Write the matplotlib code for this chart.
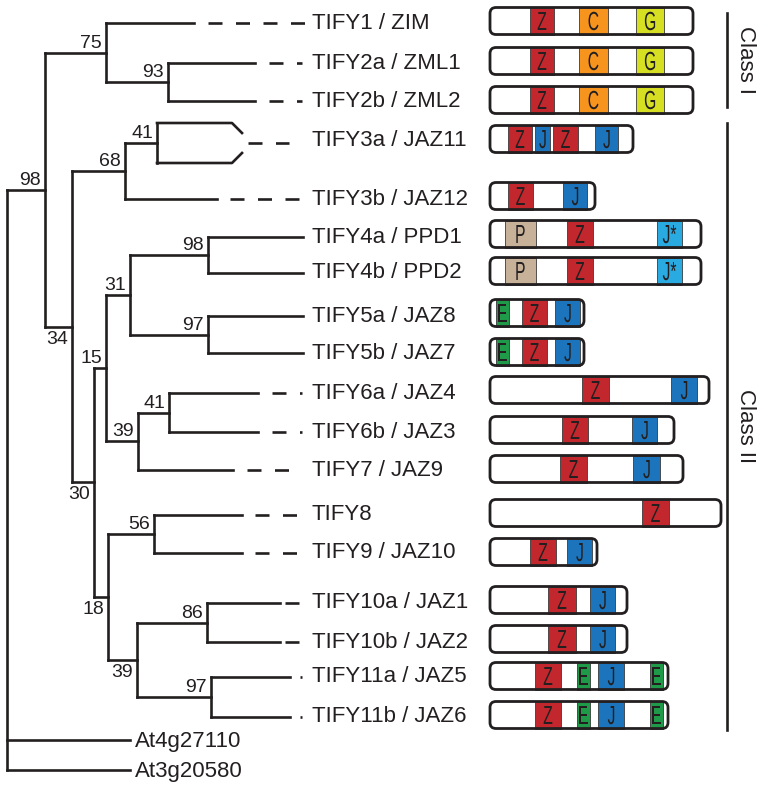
import matplotlib
matplotlib.use("Agg")
import matplotlib.pyplot as plt
import matplotlib.patches as mpatches
from matplotlib import font_manager
from matplotlib.textpath import TextPath
from matplotlib.font_manager import FontProperties
from matplotlib.transforms import Affine2D

# pick fonts
def have_font(name):
    try:
        font_manager.findfont(name, fallback_to_default=False)
        return True
    except ValueError:
        return False

main_font = "Liberation Sans" if have_font("Liberation Sans") else "DejaVu Sans"
plt.rcParams["font.family"] = [main_font, "DejaVu Sans"]

# ---------------- data ----------------
# leaves (top to bottom), their row on the tree and the extent of the branch tip
leaf_names = ["TIFY1 / ZIM", "TIFY2a / ZML1", "TIFY2b / ZML2", "TIFY3a / JAZ11",
              "TIFY3b / JAZ12", "TIFY4a / PPD1", "TIFY4b / PPD2", "TIFY5a / JAZ8",
              "TIFY5b / JAZ7", "TIFY6a / JAZ4", "TIFY6b / JAZ3", "TIFY7 / JAZ9",
              "TIFY8", "TIFY9 / JAZ10", "TIFY10a / JAZ1", "TIFY10b / JAZ2",
              "TIFY11a / JAZ5", "TIFY11b / JAZ6"]
leaf_rows = [23, 63, 101, 143, 199, 237, 273, 316, 353, 393, 432, 470,
             515, 553, 603, 642, 677, 717]
solid_end = [194, 255, 255, 233, 217, 303, 303, 303, 303, 258, 258, 233,
             242, 242, 280, 280, 290, 290]
dash_start = [208, 269, 269, 248, 230, None, None, None, None, 272, 272, 247,
              255, 255, 285, 285, 300, 300]
dash_end = [306, 302, 302, 289, 300, None, None, None, None, 302, 302, 290,
            297, 297, 299, 299, 302, 302]

# outgroups
outgroup_names = ["At4g27110", "At3g20580"]
outgroup_rows = [740, 770]
outgroup_end = 130

# internal nodes: depth (x), bootstrap support, label side, children
node_x = {"root": 7, "A": 45, "B": 106, "D": 168, "C": 72, "E": 125, "G": 157,
          "F": 94, "H": 106, "J": 130, "L": 208, "M": 208, "K": 138, "N": 169,
          "I": 108, "O": 154, "P": 137, "Q": 207, "R": 211}
node_support = {"A": 98, "B": 75, "D": 93, "C": 34, "E": 68, "G": 41, "F": 30,
                "H": 15, "J": 31, "L": 98, "M": 97, "K": 39, "N": 41, "I": 18,
                "O": 56, "P": 39, "Q": 86, "R": 97}
label_below = ["C", "F", "I", "P"]
children = {"root": ["A", "At4g27110", "At3g20580"],
            "A": ["B", "C"], "B": ["TIFY1 / ZIM", "D"],
            "D": ["TIFY2a / ZML1", "TIFY2b / ZML2"],
            "C": ["E", "F"], "E": ["G", "TIFY3b / JAZ12"],
            "G": ["TIFY3a-1", "TIFY3a-2"],
            "F": ["H", "I"], "H": ["J", "K"], "J": ["L", "M"],
            "L": ["TIFY4a / PPD1", "TIFY4b / PPD2"],
            "M": ["TIFY5a / JAZ8", "TIFY5b / JAZ7"],
            "K": ["N", "TIFY7 / JAZ9"],
            "N": ["TIFY6a / JAZ4", "TIFY6b / JAZ3"],
            "I": ["O", "P"], "O": ["TIFY8", "TIFY9 / JAZ10"],
            "P": ["Q", "R"], "Q": ["TIFY10a / JAZ1", "TIFY10b / JAZ2"],
            "R": ["TIFY11a / JAZ5", "TIFY11b / JAZ6"]}
# TIFY3a is drawn as two branches merging into one tip
tify3a_rows = [123, 163]
tify3a_merge = [232, 242]

# protein domain architecture (length and domains, in diagram units)
protein_len = [203, 203, 203, 143, 105, 211, 211, 94, 94, 219, 184, 193,
               231, 107, 137, 137, 178, 178]
protein_domains = [
    [("Z", 40, 64), ("C", 89, 118), ("G", 146, 174)],
    [("Z", 40, 64), ("C", 89, 118), ("G", 146, 174)],
    [("Z", 40, 64), ("C", 89, 118), ("G", 146, 174)],
    [("Z", 18, 42), ("J", 45, 60), ("Z", 63, 88), ("J", 105, 128)],
    [("Z", 18, 43), ("J", 73, 97)],
    [("P", 15, 46), ("Z", 77, 103), ("J*", 167, 192)],
    [("P", 15, 46), ("Z", 77, 103), ("J*", 167, 192)],
    [("E", 6, 19), ("Z", 32, 57), ("J", 65, 90)],
    [("E", 6, 19), ("Z", 32, 57), ("J", 65, 90)],
    [("Z", 92, 119), ("J", 181, 207)],
    [("Z", 72, 98), ("J", 142, 167)],
    [("Z", 70, 97), ("J", 143, 170)],
    [("Z", 152, 179)],
    [("Z", 40, 66), ("J", 77, 102)],
    [("Z", 58, 86), ("J", 100, 125)],
    [("Z", 58, 86), ("J", 100, 125)],
    [("Z", 45, 71), ("E", 87, 100), ("J", 108, 134), ("E", 160, 173)],
    [("Z", 45, 71), ("E", 87, 100), ("J", 108, 134), ("E", 160, 173)],
]
domain_colors = {"Z": "#c1272d", "C": "#f7941d", "G": "#d7df23", "J": "#1c75bc",
                 "J*": "#29abe2", "P": "#c7b299", "E": "#1e9a48"}
box_rows = [21, 61, 100, 139, 196, 234, 271, 313, 352, 390, 430, 469,
            513, 552, 600, 639, 676, 715]

class_names = ["Class I", "Class II"]
class_span = [(13, 107), (123, 730)]

# ---------------- drawing ----------------
W, H = 757, 788
fig = plt.figure(figsize=(W / 100, H / 100), dpi=100)
ax = fig.add_axes([0, 0, 1, 1])
ax.set_xlim(0, W)
ax.set_ylim(H, 0)
ax.axis("off")

lw = 1.9
col = "#231f20"
px = 0.72  # points per pixel

leaf_y = dict(zip(leaf_names, leaf_rows))
leaf_y.update(dict(zip(outgroup_names, outgroup_rows)))
leaf_y["TIFY3a-1"], leaf_y["TIFY3a-2"] = tify3a_rows


def node_y(n):
    if n in children:
        ys = [node_y(c) for c in children[n]]
        return (ys[0] + ys[-1]) / 2
    return leaf_y[n]


def draw(n):
    x = node_x[n]
    ys = [node_y(c) for c in children[n]]
    ax.plot([x, x], [ys[0], ys[-1]], color=col, lw=lw, solid_capstyle="projecting")
    for c, yc in zip(children[n], ys):
        if c in children:
            ax.plot([x, node_x[c]], [yc, yc], color=col, lw=lw,
                    solid_capstyle="projecting")
            draw(c)
        elif c in outgroup_names:
            ax.plot([x, outgroup_end], [yc, yc], color=col, lw=lw)
            ax.text(outgroup_end + 5, yc + 1, c, fontsize=16, va="center",
                    ha="left", color=col)
        elif c.startswith("TIFY3a-"):
            m0, m1 = tify3a_merge
            ymid = node_y("G")
            ym = ymid - 10 if yc < ymid else ymid + 10
            ax.plot([x, m0, m1], [yc, yc, ym], color=col, lw=lw)
        else:
            i = leaf_names.index(c)
            ax.plot([x, solid_end[i]], [yc, yc], color=col, lw=lw)
    if n in node_support:
        yin = node_y(n)
        if n in label_below:
            ax.text(x - 4, yin + 4, str(node_support[n]), fontsize=14,
                    ha="right", va="top", color=col)
        else:
            ax.text(x - 4, yin - 1, str(node_support[n]), fontsize=14,
                    ha="right", va="bottom", color=col)


draw("root")

# dashed tips and leaf labels
on, off = 14, 13.5
for i, name in enumerate(leaf_names):
    y = leaf_rows[i]
    if dash_start[i] is not None:
        ax.plot([dash_start[i], dash_end[i]], [y, y], color=col, lw=lw,
                linestyle=(0, (on * px / lw, off * px / lw)),
                dash_capstyle="butt")
    ty = 140 if name.startswith("TIFY3a") else y
    ax.text(312, ty, name, fontsize=16, va="center", ha="left", color=col)

# narrow, light letters for the domain boxes
letter_font = FontProperties(family=main_font)
cap_ext = TextPath((0, 0), "Z", size=100, prop=letter_font).get_extents()
cap = cap_ext.y1 - cap_ext.y0


def domain_letter(s, cx, cy, height=18, squeeze=0.6):
    tp = TextPath((0, 0), s, size=100, prop=letter_font)
    ext = tp.get_extents()
    sy = height / cap
    sx = sy * squeeze
    tr = (Affine2D().translate(-(ext.x0 + ext.x1) / 2, -cap / 2)
          .scale(sx, -sy).translate(cx, cy))
    ax.add_patch(mpatches.PathPatch(tr.transform_path(tp), facecolor=col,
                                    edgecolor="none", zorder=3))


x0 = 490
bh = 27
for i in range(len(leaf_names)):
    yc = box_rows[i]
    L = protein_len[i]
    for d, s, e in protein_domains[i]:
        ax.add_patch(mpatches.Rectangle((x0 + s, yc - bh / 2), e - s, bh,
                                        facecolor=domain_colors[d],
                                        edgecolor="#3a3a3a", lw=0.6, zorder=2))
        domain_letter(d, x0 + (s + e) / 2, yc)
    box = mpatches.FancyBboxPatch((x0, yc - bh / 2), L, bh,
                                  boxstyle="round,pad=0,rounding_size=6",
                                  facecolor="none", edgecolor=col, lw=2.0,
                                  zorder=4)
    ax.add_patch(box)

# class brackets
for name, (y0, y1) in zip(class_names, class_span):
    ax.plot([727, 727], [y0, y1], color=col, lw=lw)
    ax.text(745, (y0 + y1) / 2, name, fontsize=16, rotation=270,
            ha="center", va="center", color=col)

fig.savefig("out.png", dpi=100)
